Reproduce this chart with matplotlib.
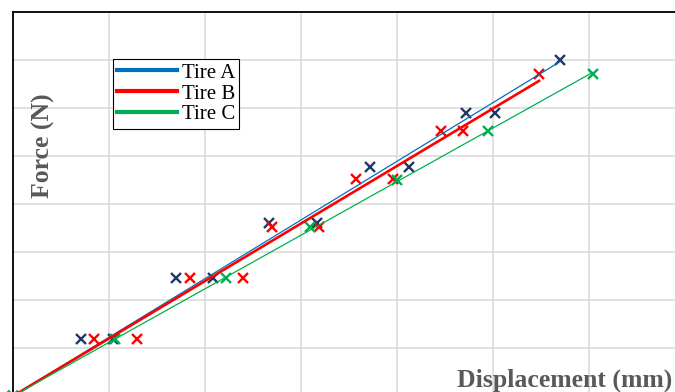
import numpy as np
import matplotlib
matplotlib.use("Agg")
import matplotlib.pyplot as plt
from matplotlib.lines import Line2D

# Load test measurements: displacement (mm) vs applied force (N)
disp_a = [0, 0.71, 1.04, 1.70, 2.08, 2.67, 3.17, 3.72, 4.13, 4.72, 5.02, 5.70]
force_a = [0, 59, 59, 123, 123, 180, 180, 239, 239, 295, 295, 350]

disp_b = [0, 0.84, 1.29, 1.84, 2.40, 2.70, 3.19, 3.57, 3.96, 4.46, 4.69, 5.48]
force_b = [0, 59, 59, 123, 123, 176, 176, 226, 226, 276, 276, 335]

disp_c = [0, 1.06, 2.22, 3.09, 4.00, 4.95, 6.04]
force_c = [0, 59, 123, 176, 225, 276, 335]

series_names = ["Tire A", "Tire B", "Tire C"]
marker_colors = ["#1F3864", "#FF0000", "#00B050"]
line_colors = ["#0070C0", "#FF0000", "#00B050"]
line_widths = [0.9, 1.9, 0.9]

x_max, x_step = 7, 1
y_max, y_step = 400, 50

W, H = 675, 392
fig = plt.figure(figsize=(W / 100, H / 100), dpi=100)
# plot area: left edge at 13 px, top at 12 px, running past the right and bottom edges
left, top = 13, 12
ax_w, ax_h = 672, 384
ax = fig.add_axes([left / W, (H - top - ax_h) / H, ax_w / W, ax_h / H])

ax.set_xlim(0, x_max)
ax.set_ylim(0, y_max)
ax.set_xticks(np.arange(0, x_max + x_step, x_step))
ax.set_yticks(np.arange(0, y_max + y_step, y_step))
ax.grid(True, color="#D9D9D9", linewidth=1.1)
ax.set_axisbelow(True)
ax.tick_params(length=0, labelleft=False, labelbottom=False)
for side in ("right", "bottom"):
    ax.spines[side].set_visible(False)
for side in ("top", "left"):
    ax.spines[side].set_color("black")
    ax.spines[side].set_linewidth(1.3)

data = [(disp_a, force_a), (disp_b, force_b), (disp_c, force_c)]
for (xs, ys), mc, lc, lw in zip(data, marker_colors, line_colors, line_widths):
    x = np.asarray(xs, float)
    y = np.asarray(ys, float)
    # least-squares trend line forced through the origin
    k = np.sum(x * y) / np.sum(x * x)
    xf = np.array([0.0, x.max()])
    ax.plot(xf, k * xf, color=lc, linewidth=lw, zorder=3, clip_on=False)
    ax.plot(x, y, linestyle="none", marker="x", markersize=7.8,
            markeredgewidth=1.7, color=mc, zorder=2, clip_on=False)

handles = [Line2D([0], [0], color=c, linewidth=3.0) for c in line_colors]
leg = fig.legend(handles, series_names, loc="upper left",
                 bbox_to_anchor=(113 / W, 1 - 59 / H), bbox_transform=fig.transFigure,
                 borderaxespad=0, frameon=True, fancybox=False, framealpha=1,
                 edgecolor="black", handlelength=2.85, handletextpad=0.25,
                 labelspacing=0.06, borderpad=0.2,
                 prop={"family": "Liberation Serif", "size": 15})
leg.get_frame().set_linewidth(0.8)

label_style = dict(family="Liberation Serif", fontweight="bold", color="#595959", fontsize=18.5)
fig.text(565 / W, 1 - 380 / H, "Displacement (mm)", ha="center", va="center", **label_style)
fig.text(43 / W, 1 - 146 / H, "Force (N)", ha="center", va="center", rotation=90, **label_style)

fig.savefig("out.png", dpi=100)
